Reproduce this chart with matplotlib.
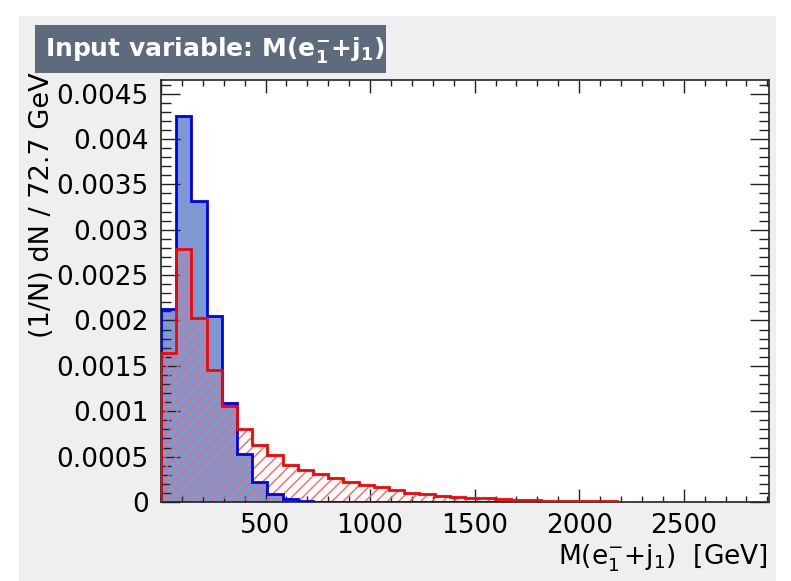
import numpy as np
import matplotlib.pyplot as plt
from matplotlib.patches import Rectangle
from matplotlib.ticker import MultipleLocator, FuncFormatter

plt.rcParams['font.family'] = ['DejaVu Sans']
plt.rcParams['mathtext.fontset'] = 'dejavusans'
plt.rcParams['mathtext.default'] = 'regular'
plt.rcParams['hatch.linewidth'] = 1.0

################################################################################

bin_width = 72.7
n_bins = 40
x_lo = 0.0

# signal (blue, filled), normalised per bin
signal = [0.00213, 0.00425, 0.00332, 0.00205, 0.00109, 0.00053, 0.00022,
          0.000092, 0.000028, 0.00001, 0.000004, 0.000002] + [0.0]*28
# background (red, hatched)
background = [0.00164, 0.00279, 0.00203, 0.001456, 0.001058, 0.000803,
              0.000626, 0.000523, 0.000413, 0.00035, 0.000305, 0.000264,
              0.00022, 0.000191, 0.000165, 0.000128, 0.000098, 0.000084,
              0.00007, 0.000058, 0.000047, 0.00004, 0.000032, 0.000025,
              0.00002, 0.000016, 0.000012, 0.00001, 0.000008, 0.000006,
              0.000005, 0.000004, 0.000003, 0.000003, 0.000002, 0.000002,
              0.000001, 0.000001, 0.000001, 0.000001]

title = r'Input variable: M($\mathbf{e^{-}_{1}}$+$\mathbf{j_{1}}$)'
xlabel = r'M($e^{-}_{1}$+$j_{1}$)  [GeV]'
ylabel = '(1/N) dN / 72.7 GeV'

################################################################################

W, H = 791, 581
fig = plt.figure(figsize=(W/100, H/100), dpi=100)
fig.patch.set_facecolor('white')

def px(x0, y0, x1, y1):
  # pixel box (top-left origin) -> figure fraction rect
  return (x0/W, 1-y1/H, (x1-x0)/W, (y1-y0)/H)

r = px(19, 16, 776, 581)
fig.patches.append(Rectangle(r[:2], r[2], r[3], transform=fig.transFigure,
                             facecolor='#efefef', edgecolor='none', zorder=-10))
r = px(35, 25, 386, 73)
fig.patches.append(Rectangle(r[:2], r[2], r[3], transform=fig.transFigure,
                             facecolor='#5d6b7d', edgecolor='none', zorder=-5))
fig.text(45/W, 1-50/H, title, color='white', fontsize=18, fontweight='bold',
         ha='left', va='center')

ax = fig.add_axes(px(161, 80, 769, 502))
ax.set_facecolor('white')

edges = x_lo + bin_width*np.arange(n_bins+1)
ax.stairs(signal, edges, fill=True, facecolor='#7d99d1', edgecolor='none', zorder=1)
ax.stairs(signal, edges, color='#0000ee', lw=2, zorder=3)
ax.stairs(background, edges, fill=True, facecolor='none', edgecolor='#ff6464',
          hatch='///', lw=0, zorder=2)
ax.stairs(background, edges, color='#ff0000', lw=2, zorder=4)

ax.set_xlim(edges[0], edges[-1])
ax.set_ylim(0, 0.00465)

ax.xaxis.set_major_locator(MultipleLocator(500))
ax.xaxis.set_minor_locator(MultipleLocator(100))
ax.yaxis.set_major_locator(MultipleLocator(0.0005))
ax.yaxis.set_minor_locator(MultipleLocator(0.0001))
ax.xaxis.set_major_formatter(FuncFormatter(lambda v, p: '' if v == 0 else f'{v:g}'))
ax.yaxis.set_major_formatter(FuncFormatter(lambda v, p: f'{v:.4f}'.rstrip('0').rstrip('.') if v else '0'))

ax.tick_params(which='both', direction='in', top=True, right=True, color='#222222')
ax.tick_params(axis='x', which='major', length=9.5, width=1, pad=8, labelsize=19)
ax.tick_params(axis='x', which='minor', length=4.5, width=1)
ax.tick_params(axis='y', which='major', length=13.5, width=1, pad=9, labelsize=19)
ax.tick_params(axis='y', which='minor', length=7, width=1)
for s in ax.spines.values():
  s.set_linewidth(1.2)
  s.set_color('#222222')

fig.text(768/W, 1-558/H, xlabel, fontsize=19, ha='right', va='center')
fig.text(42/W, 1-205/H, ylabel, fontsize=19.5, rotation=90, ha='center', va='center')

fig.savefig('out.png', dpi=100)
